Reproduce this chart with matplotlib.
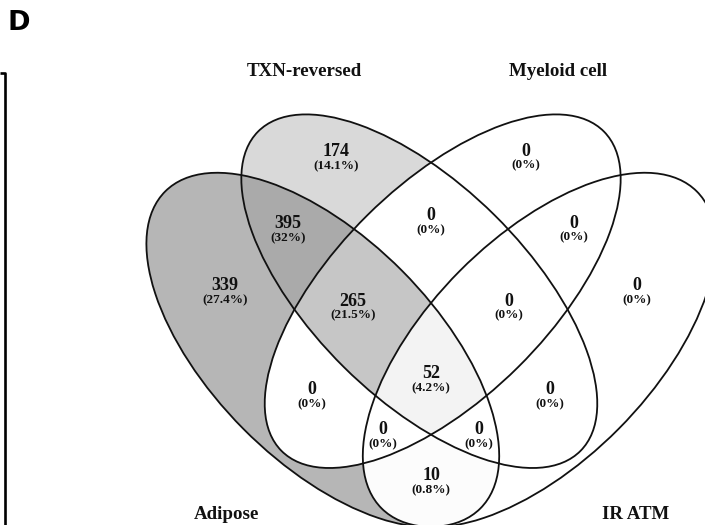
import matplotlib
matplotlib.use("Agg")
import matplotlib.pyplot as plt
import numpy as np
from matplotlib.patches import Ellipse

# sets: A = Adipose, B = TXN-reversed, C = Myeloid cell, D = IR ATM
set_keys = ["A", "B", "C", "D"]
set_names = ["Adipose", "TXN-reversed", "Myeloid cell", "IR ATM"]

region_sets = ["A", "B", "C", "D", "AB", "BC", "CD", "ABC", "BCD", "ABCD",
               "AC", "BD", "ACD", "ABD", "AD"]
region_counts = [339, 174, 0, 0, 395, 0, 0, 265, 0, 52, 0, 0, 0, 0, 10]
region_pcts = ["27.4%", "14.1%", "0%", "0%", "32%", "0%", "0%", "21.5%", "0%",
               "4.2%", "0%", "0%", "0%", "0%", "0.8%"]

# layout in pixel units (x right, y down): centre x, centre y, semi-major, semi-minor, angle
W, H = 705, 525
ellipse_geom = {
    "A": (322.8, 349.9, 223.5, 112.0, 45.2),
    "B": (419.3, 291.2, 226.9, 107.0, 44.7),
    "C": (442.7, 291.2, 226.9, 107.0, 135.3),
    "D": (539.2, 349.9, 223.5, 112.0, 134.8),
}
label_xy = [(225, 284), (336, 150), (526, 149), (637, 284), (288, 222), (431, 214),
            (574, 221), (353, 299), (509, 299), (431, 372), (312, 388), (550, 388),
            (383, 428), (479, 428), (431, 474)]
name_xy = {"A": (226, 519), "B": (304, 76), "C": (558, 76), "D": (636, 519)}


def inside(geom, xx, yy):
    cx, cy, a, b, ang = geom
    t = np.deg2rad(ang)
    dx, dy = xx - cx, yy - cy
    u = dx * np.cos(t) + dy * np.sin(t)
    v = -dx * np.sin(t) + dy * np.cos(t)
    return (u / a) ** 2 + (v / b) ** 2 <= 1


fig = plt.figure(figsize=(W / 100, H / 100), dpi=100)
ax = fig.add_axes([0, 0, 1, 1])
ax.set_xlim(0, W)
ax.set_ylim(H, 0)
ax.axis("off")

# shade every region by its count
xx, yy = np.meshgrid(np.arange(W) + 0.5, np.arange(H) + 0.5)
masks = {k: inside(ellipse_geom[k], xx, yy) for k in set_keys}
shade = np.ones((H, W))
max_count = max(region_counts)
for key, count in zip(region_sets, region_counts):
    m = np.ones((H, W), dtype=bool)
    for k in set_keys:
        m &= masks[k] if k in key else ~masks[k]
    shade[m] = 1 - 0.33 * count / max_count
ax.imshow(np.dstack([shade] * 3), extent=(0, W, H, 0), interpolation="nearest", zorder=0)

for k in set_keys:
    cx, cy, a, b, ang = ellipse_geom[k]
    ax.add_patch(Ellipse((cx, cy), 2 * a, 2 * b, angle=ang, fill=False,
                         edgecolor="#111111", linewidth=1.3, zorder=2))

serif = "Liberation Serif"
for (x, y), count, pct in zip(label_xy, region_counts, region_pcts):
    ax.text(x, y + 6.5, str(count), ha="center", va="baseline", fontsize=13,
            fontweight="bold", family=serif, color="#111111", zorder=3)
    ax.text(x, y + 19.5, f"({pct})", ha="center", va="baseline", fontsize=9.5,
            fontweight="bold", family=serif, color="#111111", zorder=3)

for k, name in zip(set_keys, set_names):
    x, y = name_xy[k]
    ax.text(x, y, name, ha="center", va="baseline", fontsize=13.6,
            fontweight="bold", family=serif, color="#111111", zorder=3)

# panel letter and edge of the neighbouring panel frame
ax.text(8, 30, "D", ha="left", va="baseline", fontsize=19.5, fontweight="bold",
        family="DejaVu Sans", color="black")
ax.plot([0, 4.7, 4.7], [73, 73, H], color="black", linewidth=1.9,
        solid_capstyle="butt", zorder=3)

fig.savefig("out.png", dpi=100)
